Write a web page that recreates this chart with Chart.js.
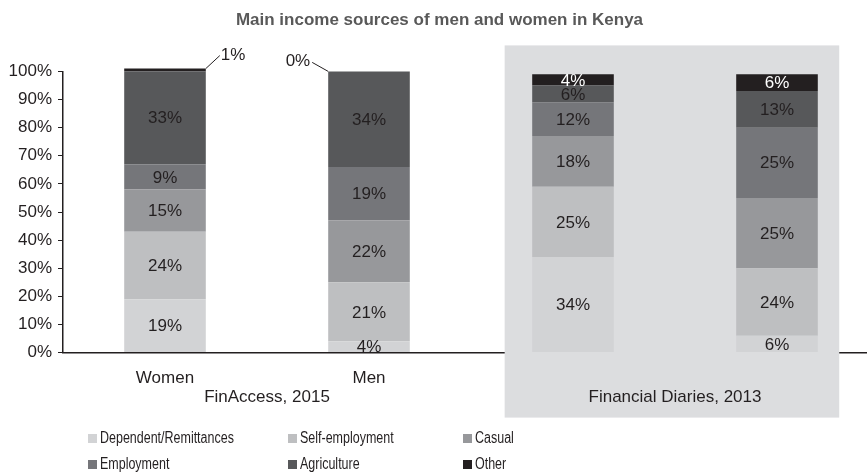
<!DOCTYPE html>
<html>
<head>
<meta charset="utf-8">
<script src="https://cdn.jsdelivr.net/npm/chart.js@4.4.0/dist/chart.umd.min.js"></script>
<style>
  body { margin: 0; width: 867px; height: 473px; overflow: hidden; background: #fff; font-family: "Liberation Sans", Arial, sans-serif; }
  #wrap { position: relative; width: 880px; height: 473px; }
  .item { position: absolute; font-size: 16px; color: #231f20; white-space: nowrap; line-height: 18px; }
  .item .box { display: inline-block; width: 9px; height: 9px; margin-right: 3px; }
  /* condensed legend text */
  .item .txt { display: inline-block; transform: scaleX(0.78); transform-origin: left center; }
</style>
</head>
<body>
<div id="wrap">
  <canvas id="incomeChart" width="880" height="473"></canvas>
  <div id="legend"></div>
</div>
<script>
var groups = ['FinAccess, 2015', 'Financial Diaries, 2013'];
var categories = ['Women', 'Men', 'Women', 'Men'];
var seriesNames = ['Dependent/Remittances', 'Self-employment', 'Casual', 'Employment', 'Agriculture', 'Other'];

// percent of respondents, per column
var dependent = [19, 4, 34, 6];
var selfEmployment = [24, 21, 25, 24];
var casual = [15, 22, 18, 25];
var employment = [9, 19, 12, 25];
var agriculture = [33, 34, 6, 13];
var other = [1, 0, 4, 6];

var colors = ['#d2d3d5', '#bebfc1', '#97989b', '#75767a', '#57585a', '#231f20'];
var labelColors = ['#231f20', '#231f20', '#231f20', '#231f20', '#231f20', '#ffffff'];

var FONT = '"Liberation Sans", Arial, sans-serif';

var series = [dependent, selfEmployment, casual, employment, agriculture, other];

var datasets = series.map(function(values, i) {
  return {
    label: seriesNames[i],
    data: values,
    backgroundColor: colors[i],
    labelColor: labelColors[i],
    clip: false,
    categoryPercentage: 1,
    barPercentage: 0.4
  };
});
// the tiny "Other" shares of the survey get their label outside the bar
datasets[5].callouts = ['right', 'left', null, null];

/* grey panel behind the diaries columns */
var panelPlugin = {
  id: 'panel',
  beforeDatasetsDraw: function(chart) {
    var x = chart.scales.x, area = chart.chartArea, ctx = chart.ctx;
    var w = x.getPixelForValue(1) - x.getPixelForValue(0);
    var left = x.getPixelForValue(2) - w * 0.335;
    var right = x.getPixelForValue(3) + w * 0.305;
    ctx.save();
    ctx.fillStyle = '#dcdddf';
    ctx.fillRect(left, area.top - 26, right - left, area.bottom - area.top + 91);
    ctx.restore();
  }
};

/* percent labels inside the segments + group names under the axis */
var labelPlugin = {
  id: 'segLabels',
  afterDraw: function(chart) {
    var ctx = chart.ctx;
    ctx.save();
    ctx.font = '17px ' + FONT;
    ctx.textBaseline = 'middle';
    chart.data.datasets.forEach(function(ds, di) {
      var meta = chart.getDatasetMeta(di);
      meta.data.forEach(function(bar, i) {
        var txt = ds.data[i] + '%';
        var side = ds.callouts ? ds.callouts[i] : null;
        if (side) {
          var top = Math.min(bar.y, bar.base);
          ctx.strokeStyle = '#231f20';
          ctx.lineWidth = 1;
          ctx.fillStyle = '#231f20';
          ctx.beginPath();
          if (side === 'right') {
            var r = bar.x + bar.width / 2;
            ctx.moveTo(r, top);
            ctx.lineTo(r + 14, top - 13);
            ctx.stroke();
            ctx.textAlign = 'left';
            ctx.fillText(txt, r + 15, top - 13);
          } else {
            var l = bar.x - bar.width / 2;
            ctx.moveTo(l, top);
            ctx.lineTo(l - 16, top - 9);
            ctx.stroke();
            ctx.textAlign = 'right';
            ctx.fillText(txt, l - 18, top - 10);
          }
          return;
        }
        ctx.textAlign = 'center';
        ctx.fillStyle = ds.labelColor;
        ctx.fillText(txt, bar.x, (bar.y + bar.base) / 2 + 1);
      });
    });

    var x = chart.scales.x;
    ctx.fillStyle = '#231f20';
    ctx.textAlign = 'center';
    groups.forEach(function(g, gi) {
      var mid = (x.getPixelForValue(gi * 2) + x.getPixelForValue(gi * 2 + 1)) / 2;
      ctx.fillText(g, mid, chart.chartArea.bottom + 45);
    });
    ctx.restore();
  }
};

var ctx = document.getElementById('incomeChart').getContext('2d');
var incomeChart = new Chart(ctx, {
  type: 'bar',
  data: { labels: categories, datasets: datasets },
  plugins: [panelPlugin, labelPlugin],
  options: {
    responsive: false,
    animation: false,
    layout: { padding: { left: 0, right: 1, bottom: 68 } },
    plugins: {
      legend: { display: false },
      tooltip: { enabled: false },
      title: {
        display: true,
        text: 'Main income sources of men and women in Kenya',
        color: '#595959',
        font: { family: FONT, size: 17, weight: 'bold' },
        padding: { top: 10, bottom: 41 }
      }
    },
    scales: {
      x: {
        stacked: true,
        grid: { drawOnChartArea: false, drawTicks: false },
        border: { display: true, color: '#231f20', width: 1.5 },
        ticks: { color: '#231f20', padding: 16, font: { family: FONT, size: 17 } }
      },
      y: {
        stacked: true,
        min: 0,
        max: 100,
        afterFit: function(scale) { scale.width = 63; },
        grid: { drawOnChartArea: false, drawTicks: true, tickLength: 5, color: '#231f20' },
        border: { display: true, color: '#231f20', width: 1.5 },
        ticks: {
          stepSize: 10,
          padding: 6,
          color: '#231f20',
          font: { family: FONT, size: 17 },
          callback: function(v) { return v + '%'; }
        }
      }
    }
  }
});

// legend in three columns under the chart
var legend = document.getElementById('legend');
var colX = [88, 288, 463];
var rowY = [429, 455];
seriesNames.forEach(function(name, i) {
  var d = document.createElement('div');
  d.className = 'item';
  d.style.left = colX[i % 3] + 'px';
  d.style.top = rowY[Math.floor(i / 3)] + 'px';
  d.innerHTML = '<span class="box" style="background:' + colors[i] + '"></span><span class="txt">' + name + '</span>';
  legend.appendChild(d);
});
</script>
</body>
</html>
